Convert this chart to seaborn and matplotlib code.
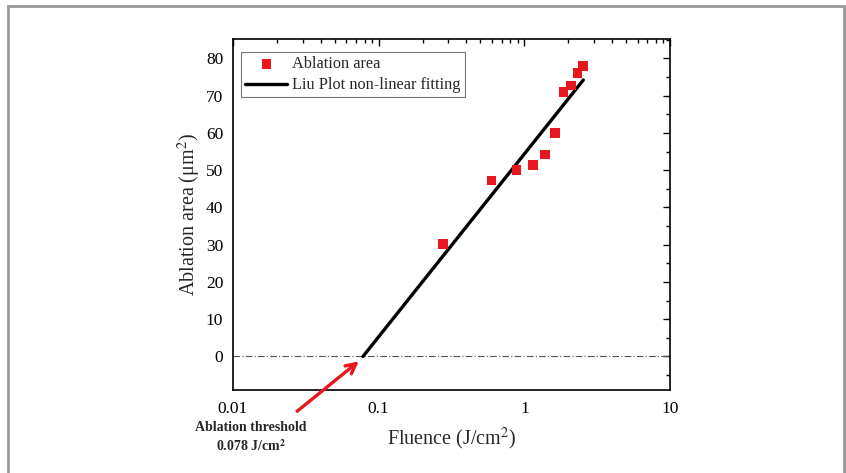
import matplotlib
matplotlib.use("Agg")
import matplotlib.pyplot as plt
import matplotlib.ticker as mticker
from matplotlib.patches import Rectangle
import seaborn as sns
import pandas as pd

# Data
fluence = [0.276, 0.596, 0.885, 1.15, 1.39, 1.63, 1.86, 2.09, 2.32, 2.54]
area = [30.2, 47.2, 50.0, 51.4, 54.2, 60.0, 71.0, 72.7, 76.1, 77.9]
fit_x = [0.078, 2.54]
fit_y = [0.0, 74.2]
threshold = 0.078

sns.set_theme(style="white")
plt.rcParams['font.family'] = ['Liberation Serif', 'DejaVu Serif']
plt.rcParams['mathtext.fontset'] = 'stix'

df = pd.DataFrame({"Fluence": fluence, "Area": area})
df_fit = pd.DataFrame({"x": fit_x, "y": fit_y})

fig = plt.figure(figsize=(8.46, 4.73), dpi=100)
ax = fig.add_axes([233/846, 1-390/473, (670-233)/846, (390-39)/473])

ax.axhline(0, color="#555555", lw=0.8, ls=(0, (6, 2, 1, 2)), zorder=1)
sns.lineplot(data=df_fit, x="x", y="y", ax=ax, color="black", lw=2.4,
             label="Liu Plot non-linear fitting", zorder=2)
sns.scatterplot(data=df, x="Fluence", y="Area", ax=ax, marker="s", s=48,
                color="#e8161e", edgecolor="none", label="Ablation area", zorder=3)

ax.set_xscale("log")
ax.set_xlim(0.01, 10)
ax.set_ylim(-9, 85.2)
ax.set_yticks(range(0, 81, 10))
ax.yaxis.set_minor_locator(mticker.MultipleLocator(5))
ax.xaxis.set_major_locator(mticker.LogLocator(base=10, numticks=10))
ax.xaxis.set_major_formatter(mticker.FuncFormatter(lambda v, p: f"{v:g}"))
ax.xaxis.set_minor_locator(mticker.LogLocator(base=10, subs=range(2, 10), numticks=20))
ax.xaxis.set_minor_formatter(mticker.NullFormatter())

ax.tick_params(which="both", direction="in", top=True, right=True, colors="black",
               labelsize=12.5)
ax.tick_params(axis="x", pad=8)
ax.tick_params(axis="y", pad=7)
ax.tick_params(which="major", length=5, width=1)
ax.tick_params(which="minor", length=3, width=1)
for s in ax.spines.values():
    s.set_color("black")
    s.set_linewidth(1.2)

ax.set_xlabel("Fluence (J/cm$^2$)", fontsize=14.5, labelpad=6)
ax.set_ylabel("Ablation area (μm$^2$)", fontsize=14.5, labelpad=2)

handles, labels = ax.get_legend_handles_labels()
order = [labels.index("Ablation area"), labels.index("Liu Plot non-linear fitting")]
leg = ax.legend([handles[i] for i in order], [labels[i] for i in order],
                loc="upper left", bbox_to_anchor=(0.0, 0.985), fontsize=11.7,
                frameon=True, fancybox=False, edgecolor="#555555",
                handlelength=2.6, borderpad=0.25, labelspacing=0.3,
                handletextpad=0.3, borderaxespad=0.5)
leg.get_frame().set_linewidth(0.8)

ax.annotate("", xy=(threshold * 0.97, -0.8), xycoords="data",
            xytext=(295/846, 1-413/473), textcoords="figure fraction",
            arrowprops=dict(arrowstyle="->", color="#e8161e", lw=2.4,
                            mutation_scale=18))
fig.text(251/846, 1-437.5/473, "Ablation threshold\n0.078 J/cm$^\\mathbf{2}$",
         ha="center", va="center", fontsize=10, fontweight="bold",
         linespacing=1.35)

fig.patches.append(Rectangle((8/846, -0.1), (844-8)/846, (473-6)/473 + 0.1,
                             transform=fig.transFigure, fill=False,
                             edgecolor="#999999", lw=2.0))

fig.savefig("out.png", dpi=100)
